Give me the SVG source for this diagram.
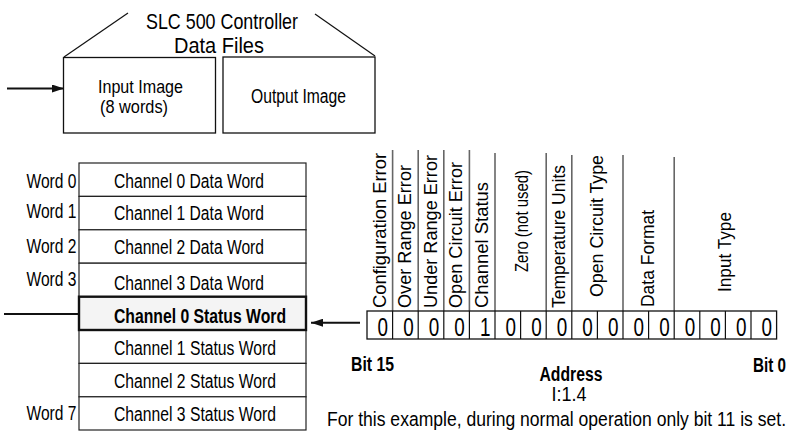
<svg xmlns="http://www.w3.org/2000/svg" width="793" height="435" viewBox="0 0 793 435">
<defs>
<style>
text{font-family:"Liberation Sans",Arial,sans-serif;fill:#000}
.t{font-size:19.5px}
.h{font-size:22px}
.r{font-size:17.5px}
.d{font-size:25px;text-anchor:middle}
.b{font-weight:bold}
.m{text-anchor:middle}
.box{fill:#fff;stroke:#111;stroke-width:1.3}
.row{fill:#fff;stroke:#222;stroke-width:1.2}
.sep{stroke:#666;stroke-width:1.6}
.ln{stroke:#111;stroke-width:1.2;fill:none}
.ar{stroke:#111;stroke-width:2;fill:none}
</style>
<marker id="ah" viewBox="0 0 12 8" refX="12" refY="4" markerWidth="12" markerHeight="8" markerUnits="userSpaceOnUse" orient="auto">
<path d="M0,0 L12,4 L0,8 Z" fill="#111"/>
</marker>
</defs>
<rect width="793" height="435" fill="#fff"/>

<g id="title">
<text class="h m" x="222" y="29" textLength="152" lengthAdjust="spacingAndGlyphs">SLC 500 Controller</text>
<text class="h m" x="219" y="53" textLength="90" lengthAdjust="spacingAndGlyphs">Data Files</text>
</g>
<g id="input-image">
<rect class="box" x="63.5" y="57.5" width="152" height="75.5"/>
<text class="m" style="font-size:17.5px" x="140.5" y="92.5" textLength="85" lengthAdjust="spacingAndGlyphs">Input Image</text>
<text class="m" style="font-size:17.5px" x="134" y="113" textLength="68" lengthAdjust="spacingAndGlyphs">(8 words)</text>
</g>
<g id="output-image">
<rect class="box" x="223" y="57" width="152" height="76"/>
<text class="m" style="font-size:20px" x="298.5" y="103" textLength="95" lengthAdjust="spacingAndGlyphs">Output Image</text>
</g>

<g id="word-table">
<rect class="row" x="79" y="163" width="227" height="33.4"/>
<rect class="row" x="79" y="196.4" width="227" height="33.4"/>
<rect class="row" x="79" y="229.8" width="227" height="33.4"/>
<rect class="row" x="79" y="263.2" width="227" height="33.4"/>
<rect class="row" x="79" y="330" width="227" height="33.4"/>
<rect class="row" x="79" y="363.4" width="227" height="33.4"/>
<rect class="row" x="79" y="396.8" width="227" height="33.2"/>
<rect x="79" y="296.7" width="227" height="33.3" fill="#f4f4f4" stroke="#111" stroke-width="2.4"/>
<text class="t" x="26.5" y="188" textLength="50" lengthAdjust="spacingAndGlyphs">Word 0</text>
<text class="t" x="26.5" y="218" textLength="50" lengthAdjust="spacingAndGlyphs">Word 1</text>
<text class="t" x="26.5" y="252.5" textLength="50" lengthAdjust="spacingAndGlyphs">Word 2</text>
<text class="t" x="26.5" y="286" textLength="50" lengthAdjust="spacingAndGlyphs">Word 3</text>
<text class="t" x="26.5" y="420" textLength="50" lengthAdjust="spacingAndGlyphs">Word 7</text>
<text class="t" x="114" y="188" textLength="150" lengthAdjust="spacingAndGlyphs">Channel 0 Data Word</text>
<text class="t" x="114" y="220" textLength="150" lengthAdjust="spacingAndGlyphs">Channel 1 Data Word</text>
<text class="t" x="114" y="254" textLength="150" lengthAdjust="spacingAndGlyphs">Channel 2 Data Word</text>
<text class="t" x="114" y="290" textLength="150" lengthAdjust="spacingAndGlyphs">Channel 3 Data Word</text>
<text class="t b" x="114" y="323" textLength="172" lengthAdjust="spacingAndGlyphs">Channel 0 Status Word</text>
<text class="t" x="114" y="355" textLength="162" lengthAdjust="spacingAndGlyphs">Channel 1 Status Word</text>
<text class="t" x="114" y="388" textLength="162" lengthAdjust="spacingAndGlyphs">Channel 2 Status Word</text>
<text class="t" x="114" y="421" textLength="162" lengthAdjust="spacingAndGlyphs">Channel 3 Status Word</text>
</g>

<g id="bit-labels">
<line class="sep" x1="392.6" y1="150" x2="392.6" y2="311"/>
<line class="sep" x1="418.2" y1="150" x2="418.2" y2="311"/>
<line class="sep" x1="443.8" y1="150" x2="443.8" y2="311"/>
<line class="sep" x1="469.4" y1="150" x2="469.4" y2="311"/>
<line class="sep" x1="495" y1="153" x2="495" y2="311"/>
<line class="sep" x1="546.2" y1="153" x2="546.2" y2="311"/>
<line class="sep" x1="571.8" y1="155" x2="571.8" y2="311"/>
<line class="sep" x1="623" y1="155" x2="623" y2="311"/>
<line class="sep" x1="674.2" y1="157" x2="674.2" y2="311"/>
<text class="r" transform="translate(385.5,308) rotate(-90)" textLength="155" lengthAdjust="spacingAndGlyphs">Configuration Error</text>
<text class="r" transform="translate(411,308) rotate(-90)" textLength="143" lengthAdjust="spacingAndGlyphs">Over Range Error</text>
<text class="r" transform="translate(436.5,308) rotate(-90)" textLength="153" lengthAdjust="spacingAndGlyphs">Under Range Error</text>
<text class="r" transform="translate(462,308) rotate(-90)" textLength="146" lengthAdjust="spacingAndGlyphs">Open Circuit Error</text>
<text class="r" transform="translate(487.5,308) rotate(-90)" textLength="126" lengthAdjust="spacingAndGlyphs">Channel Status</text>
<text class="r" transform="translate(527.5,272) rotate(-90)" textLength="102" lengthAdjust="spacingAndGlyphs">Zero (not used)</text>
<text class="r" transform="translate(564.5,308) rotate(-90)" textLength="143" lengthAdjust="spacingAndGlyphs">Temperature Units</text>
<text class="r" transform="translate(602.5,297) rotate(-90)" textLength="142" lengthAdjust="spacingAndGlyphs">Open Circuit Type</text>
<text class="r" transform="translate(653.5,307) rotate(-90)" textLength="97" lengthAdjust="spacingAndGlyphs">Data Format</text>
<text class="r" transform="translate(730.5,292) rotate(-90)" textLength="80" lengthAdjust="spacingAndGlyphs">Input Type</text>
</g>

<g id="bit-cells">
<rect x="367" y="311" width="409.6" height="28" fill="#fff" stroke="#111" stroke-width="1.3"/>
<path d="M392.6,311V339M418.2,311V339M443.8,311V339M469.4,311V339M495,311V339M520.6,311V339M546.2,311V339M571.8,311V339M597.4,311V339M623,311V339M648.6,311V339M674.2,311V339M699.8,311V339M725.4,311V339M751,311V339" stroke="#111" stroke-width="1.2" fill="none"/>
<text class="d" x="382.8" y="336" textLength="10.5" lengthAdjust="spacingAndGlyphs">0</text>
<text class="d" x="408.4" y="336" textLength="10.5" lengthAdjust="spacingAndGlyphs">0</text>
<text class="d" x="434" y="336" textLength="10.5" lengthAdjust="spacingAndGlyphs">0</text>
<text class="d" x="459.6" y="336" textLength="10.5" lengthAdjust="spacingAndGlyphs">0</text>
<text class="d" x="485.2" y="336" textLength="10.5" lengthAdjust="spacingAndGlyphs">1</text>
<text class="d" x="510.8" y="336" textLength="10.5" lengthAdjust="spacingAndGlyphs">0</text>
<text class="d" x="536.4" y="336" textLength="10.5" lengthAdjust="spacingAndGlyphs">0</text>
<text class="d" x="562" y="336" textLength="10.5" lengthAdjust="spacingAndGlyphs">0</text>
<text class="d" x="587.6" y="336" textLength="10.5" lengthAdjust="spacingAndGlyphs">0</text>
<text class="d" x="613.2" y="336" textLength="10.5" lengthAdjust="spacingAndGlyphs">0</text>
<text class="d" x="638.8" y="336" textLength="10.5" lengthAdjust="spacingAndGlyphs">0</text>
<text class="d" x="664.4" y="336" textLength="10.5" lengthAdjust="spacingAndGlyphs">0</text>
<text class="d" x="690" y="336" textLength="10.5" lengthAdjust="spacingAndGlyphs">0</text>
<text class="d" x="715.6" y="336" textLength="10.5" lengthAdjust="spacingAndGlyphs">0</text>
<text class="d" x="741.2" y="336" textLength="10.5" lengthAdjust="spacingAndGlyphs">0</text>
<text class="d" x="766.8" y="336" textLength="10.5" lengthAdjust="spacingAndGlyphs">0</text>
</g>

<g id="captions">
<text class="t b" x="351" y="370.5" textLength="43" lengthAdjust="spacingAndGlyphs">Bit 15</text>
<text class="t b" transform="translate(753,372) scale(0.78,1)" x="0" y="0">Bit 0</text>
<text class="t b m" x="571" y="380.5" textLength="63" lengthAdjust="spacingAndGlyphs">Address</text>
<text class="t m" x="569" y="400.5" textLength="35" lengthAdjust="spacingAndGlyphs">I:1.4</text>
<text class="t" transform="translate(327,425.5) scale(0.9,1)" x="0" y="0">For this example, during normal operation only bit 11 is set.</text>
</g>

<g id="connectors">
<line class="ln" x1="64" y1="57" x2="128" y2="13"/>
<line class="ln" x1="315" y1="14" x2="375" y2="56"/>
<line class="ar" x1="7" y1="88.5" x2="64" y2="88.5" marker-end="url(#ah)"/>
<line class="ar" x1="4" y1="314" x2="79" y2="314"/>
<line class="ar" x1="360" y1="322.7" x2="311" y2="322.7" marker-end="url(#ah)"/>
</g>
</svg>
